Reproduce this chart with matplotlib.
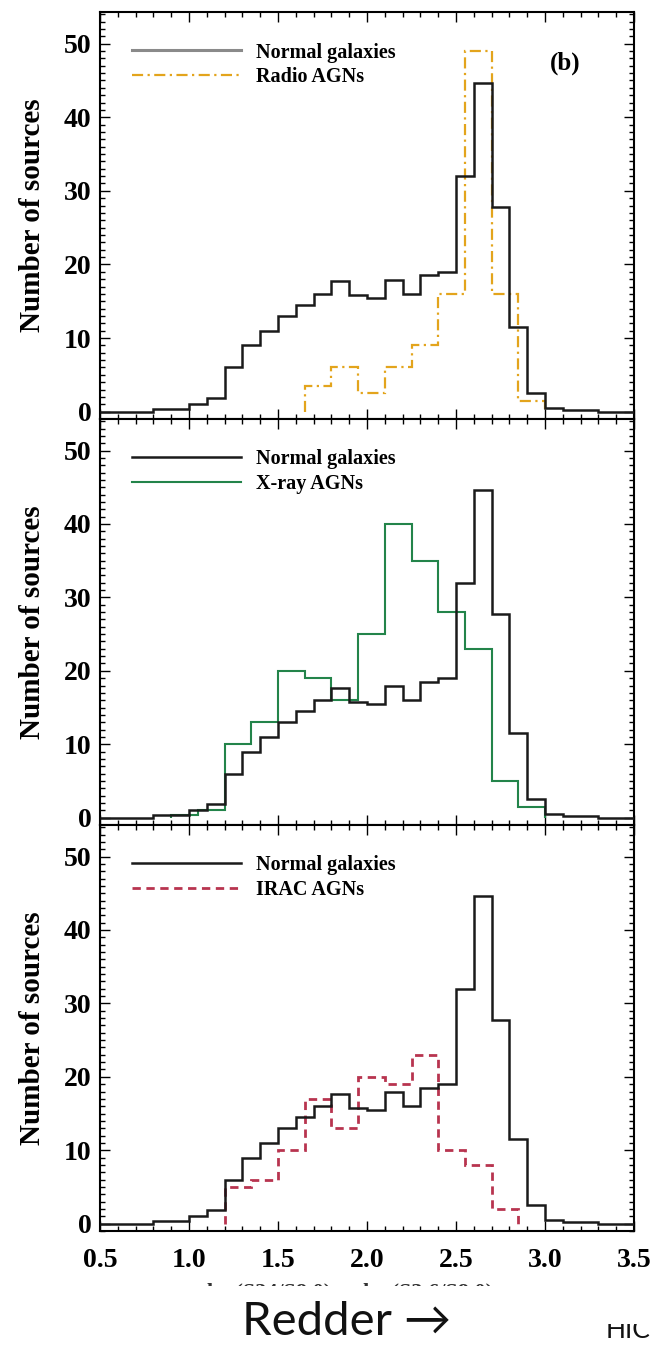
import numpy as np
import matplotlib
matplotlib.use("Agg")
import matplotlib.pyplot as plt
from matplotlib.ticker import MultipleLocator
from matplotlib.patches import Rectangle
from matplotlib.transforms import Bbox, TransformedBbox

# normal galaxies, bins of 0.1
normal_edges = np.round(np.arange(0.5, 3.51, 0.1), 2)
normal_counts = [0, 0, 0, 0.3, 0.3, 1.0, 1.8, 6.0, 9.0, 11.0,
                 13.0, 14.5, 16.0, 17.7, 15.8, 15.5, 17.9, 16.0, 18.5, 19.0,
                 32.0, 44.6, 27.8, 11.5, 2.5, 0.5, 0.2, 0.2, 0, 0]

# AGN samples, bins of 0.15
radio_edges = [1.65, 1.8, 1.95, 2.1, 2.25, 2.4, 2.55, 2.7, 2.85, 3.0]
radio_counts = [3.5, 6.0, 2.5, 6.0, 9.0, 16.0, 49.0, 16.0, 1.5]

xray_edges = [0.9, 1.05, 1.2, 1.35, 1.5, 1.65, 1.8, 1.95, 2.1, 2.25, 2.4, 2.55, 2.7, 2.85, 3.0]
xray_counts = [0.4, 1.0, 10.0, 13.0, 20.0, 19.0, 16.0, 25.0, 40.0, 35.0, 28.0, 23.0, 5.0, 1.5]

irac_edges = [1.2, 1.35, 1.5, 1.65, 1.8, 1.95, 2.1, 2.25, 2.4, 2.55, 2.7, 2.85]
irac_counts = [5.0, 6.0, 10.0, 17.0, 13.0, 20.0, 19.0, 23.0, 10.0, 8.0, 2.0]

xticks = [0.5, 1.0, 1.5, 2.0, 2.5, 3.0, 3.5]
yticks = [0, 10, 20, 30, 40, 50]

serif = "Liberation Serif"
W, H = 652, 1353
fig = plt.figure(figsize=(W / 100, H / 100), dpi=100)

def px_axes(top, bottom):
    return fig.add_axes([100 / W, 1 - bottom / H, 534 / W, (bottom - top) / H])

panels = [
    px_axes(12, 419),
    px_axes(419, 825),
    px_axes(825, 1231),
]

others = [
    (radio_edges, radio_counts, "Radio AGNs", dict(color="#e3a41c", ls=(0, (5, 2, 1, 2)), lw=1.6)),
    (xray_edges, xray_counts, "X-ray AGNs", dict(color="#23844a", ls="-", lw=1.5)),
    (irac_edges, irac_counts, "IRAC AGNs", dict(color="#b8344f", ls=(0, (3, 2)), lw=2.0)),
]

for i, ax in enumerate(panels):
    edges, counts, label, style = others[i]
    ax.stairs(normal_counts, normal_edges, baseline=0, color="#1a1a1a", lw=1.8,
              label="Normal galaxies", zorder=3)
    ax.stairs(counts, edges, baseline=0, label=label, zorder=2, **style)

    ax.set_xlim(0.5, 3.5)
    ax.set_ylim(-1.0, 54.3)
    ax.set_xticks(xticks)
    ax.set_yticks(yticks)
    ax.xaxis.set_minor_locator(MultipleLocator(0.1))
    ax.yaxis.set_minor_locator(MultipleLocator(1))
    ax.tick_params(which="both", direction="in", top=True, right=True, width=1.0)
    ax.tick_params(which="major", length=7)
    ax.tick_params(which="minor", length=3.5)
    ax.tick_params(axis="y", which="major", pad=6)
    ax.tick_params(axis="x", which="major", pad=12)
    for lab in ax.get_yticklabels() + ax.get_xticklabels():
        lab.set_fontfamily(serif)
        lab.set_fontweight("bold")
        lab.set_fontsize(20)
    if i < 2:
        ax.tick_params(labelbottom=False)
    for sp in ax.spines.values():
        sp.set_linewidth(1.5)
    ax.set_ylabel("Number of sources", family=serif, fontweight="bold", fontsize=21)
    ax.yaxis.set_label_coords(-54 / 534, 0.5)
    leg = ax.legend(loc="upper left", bbox_to_anchor=(0.06, 0.925), frameon=False,
                    borderaxespad=0, borderpad=0, handlelength=5.4, handletextpad=0.75,
                    labelspacing=0.22, prop=dict(family=serif, weight="bold", size=14.5))
    if i == 0:
        leg.get_lines()[0].set_color("#8a8a8a")
        leg.get_lines()[0].set_linewidth(2.2)

panels[0].text(0.872, 0.875, "(b)", transform=panels[0].transAxes, ha="center", va="center",
               family=serif, fontweight="bold", fontsize=18)

# partially cropped x label of the original figure (only its top edge shows)
xl = fig.text(350 / W, 1 - 1283 / H, "log(S24/S8.0) or log(S3.6/S8.0)",
              ha="center", va="top", family=serif, fontweight="bold", fontsize=16, color="#333333")
xl.set_clip_box(TransformedBbox(Bbox([[0, 1 - 1286 / H], [1, 1]]), fig.transFigure))
xl.set_clip_on(True)

fig.text(347 / W, 1 - 1322 / H, "Redder \u2192", ha="center", va="center",
         family=["Lato", "DejaVu Sans"], fontsize=34, color="#111111", zorder=6)
fig.text(628 / W, 1 - 1331 / H, "HIC", ha="center", va="center",
         family=["Lato", "DejaVu Sans"], fontsize=19, color="#111111", zorder=6)
fig.patches.append(Rectangle((562 / W, 1 - 1324 / H), 90 / W, 34 / H, transform=fig.transFigure,
                             facecolor="white", edgecolor="none", zorder=7))

fig.savefig("out.png", dpi=100)
